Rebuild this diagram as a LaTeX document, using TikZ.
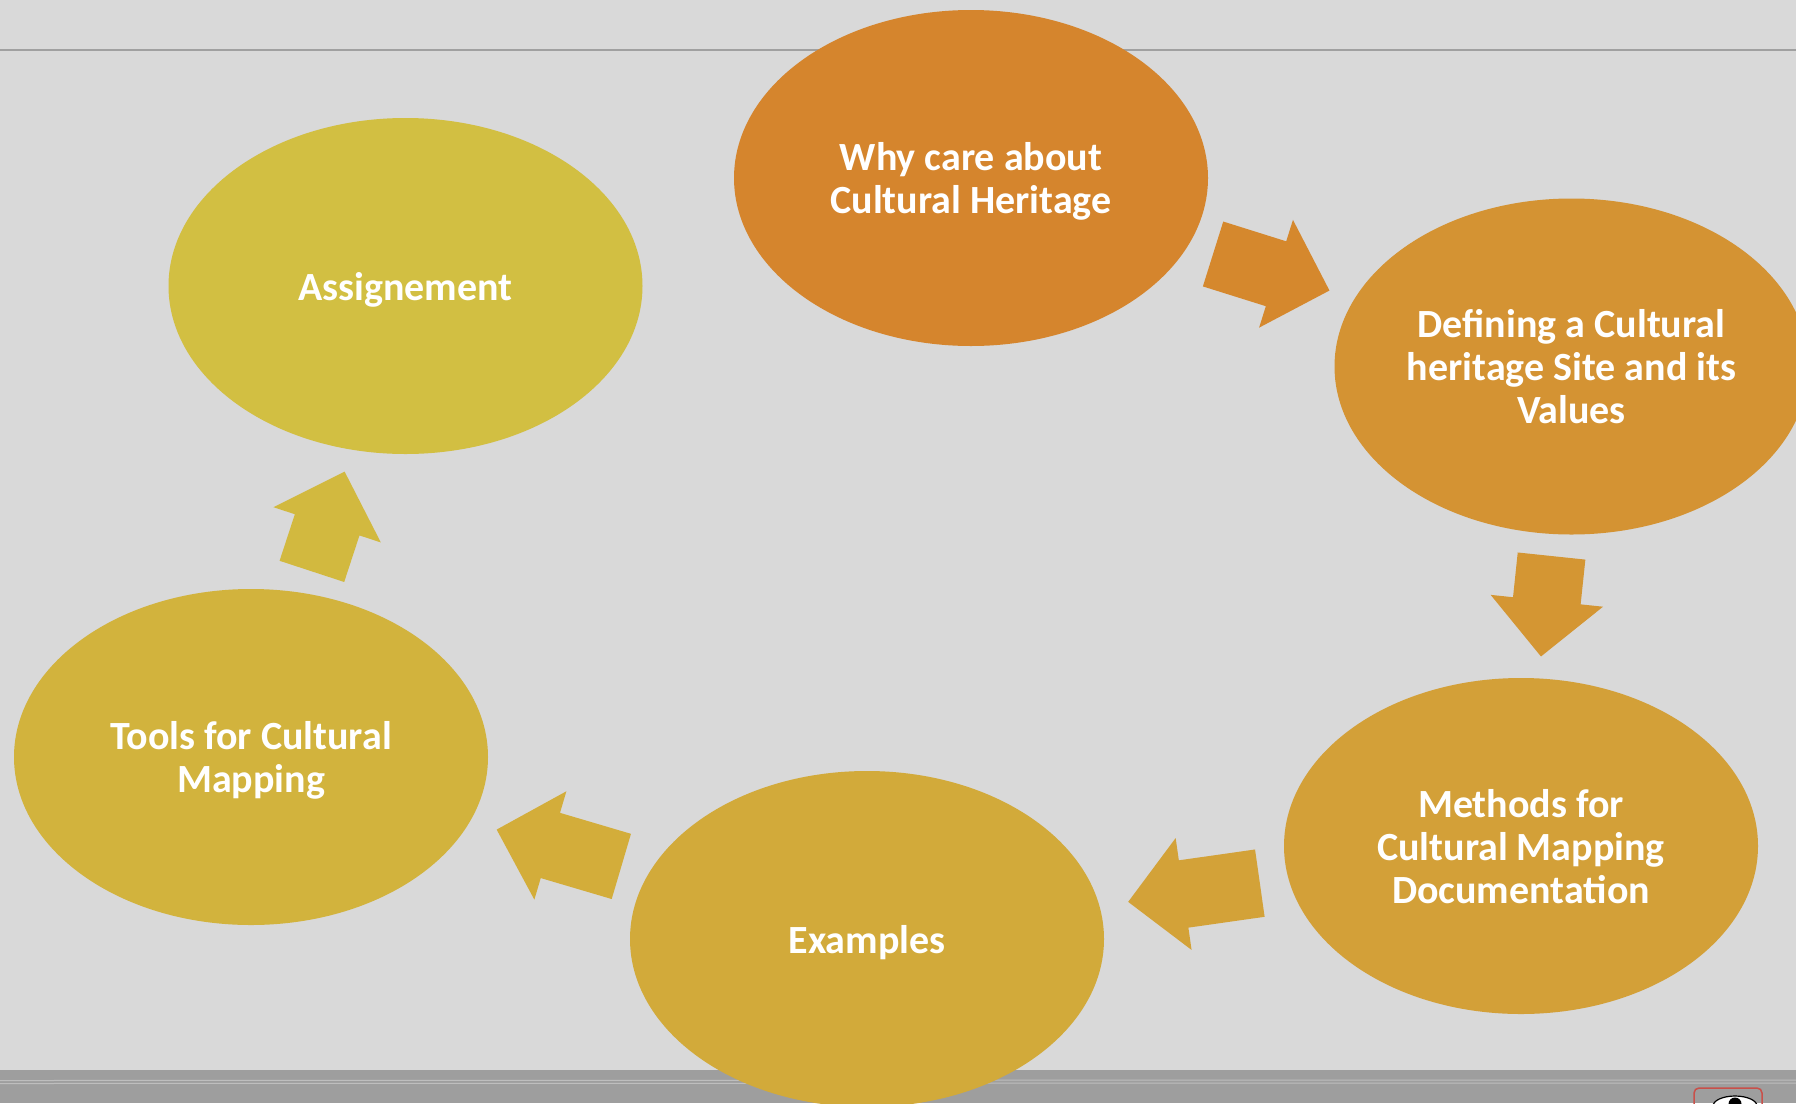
\documentclass[tikz,border=0pt]{standalone}
\usepackage{fontspec}
\setmainfont{Carlito}
\usetikzlibrary{shapes.geometric,calc}

\definecolor{slidegray}{HTML}{D9D9D9}
\definecolor{rulegray}{HTML}{A0A0A0}
\definecolor{bargray}{HTML}{9E9E9E}
\definecolor{barline}{HTML}{BEBEBE}
\definecolor{stepA}{HTML}{D5852D}
\definecolor{stepB}{HTML}{D49333}
\definecolor{stepC}{HTML}{D3A038}
\definecolor{stepD}{HTML}{D2AA3A}
\definecolor{stepE}{HTML}{D2B33D}
\definecolor{stepF}{HTML}{D2BF42}
\definecolor{arrowA}{HTML}{D5882D}
\definecolor{arrowB}{HTML}{D49633}
\definecolor{arrowC}{HTML}{D3A238}
\definecolor{arrowD}{HTML}{D3AD3A}
\definecolor{arrowE}{HTML}{D2B93F}
\definecolor{iconred}{HTML}{C9504A}

\tikzset{
  topic/.style={ellipse,fill=#1,text=white,inner sep=0pt,
    minimum width=474pt,minimum height=336pt,align=center,text depth=0pt,
    font=\fontsize{40}{43}\selectfont\bfseries},
  % block arrow of length #1, drawn along +x from its middle
  pics/blockarrow/.style={code={
    \fill (-#1/2,-34) -- (#1/2-56,-34) -- (#1/2-56,-56.5) -- (#1/2,0)
      -- (#1/2-56,56.5) -- (#1/2-56,34) -- (-#1/2,34) -- cycle;
  }}
}

\begin{document}
\begin{tikzpicture}[x=1pt,y=-1pt]

  \useasboundingbox (0,0) rectangle (1796,1103);
  \clip (0,0) rectangle (1796,1103);

  % Fond et bandeaux
  \fill[slidegray] (0,0) rectangle (1796,1103);
  \draw[rulegray,line width=2pt] (0,50) -- (1796,50);
  \fill[bargray] (0,1070) rectangle (1796,1103);
  \draw[barline,line width=1pt] (0,1080.5) -- (1796,1080);
  \draw[barline,line width=1pt] (0,1083.5) -- (1796,1083);

  % Ellipses du cycle
  \node[topic=stepA] (why)     at (971,178)    {Why care about\\Cultural Heritage};
  \node[topic=stepB] (defsite) at (1571.5,366.5) {Defining a Cultural\\heritage Site and its\\Values};
  \node[topic=stepC] (methods) at (1521,846)   {Methods for\\Cultural Mapping\\Documentation};
  \node[topic=stepD] (examples) at (867,939)   {Examples};
  \node[topic=stepE] (tools)   at (251,757)    {Tools for Cultural\\Mapping};
  \node[topic=stepF] (assign)  at (405.5,286)  {Assignement};

  % Flèches entre les étapes
  \foreach \a/\b/\len/\col in {why/defsite/122/arrowA, defsite/methods/101/arrowB,
      methods/examples/133/arrowC, examples/tools/130/arrowD, tools/assign/105/arrowE} {
    \path (\a) -- pic[midway,sloped,allow upside down,fill=\col] {blockarrow=\len} (\b);
  }

  % Icône en bas à droite
  \draw[iconred,line width=1.5pt,rounded corners=5pt] (1694,1088) rectangle (1762,1115);
  \draw[black,fill=white,line width=1.2pt] (1735,1106) ellipse (22 and 10);
  \fill[black] (1735,1104) circle (6.5);

\end{tikzpicture}
\end{document}
